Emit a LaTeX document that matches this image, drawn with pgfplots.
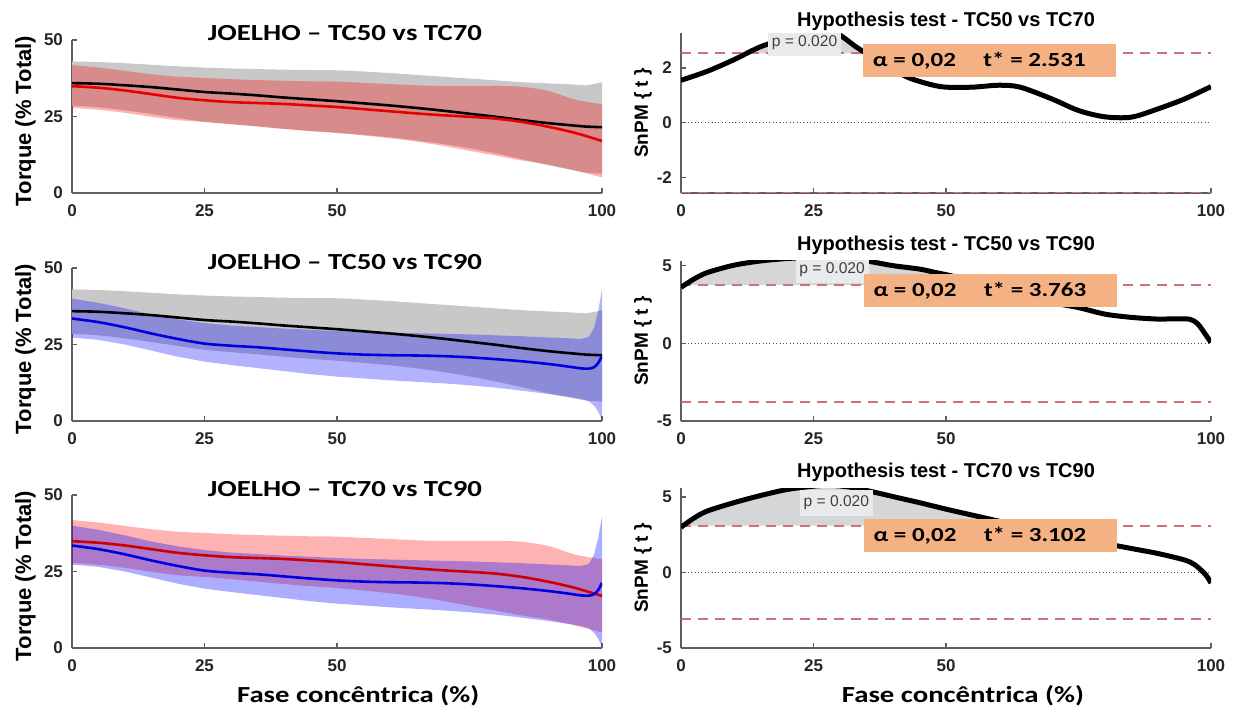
\documentclass[border=0pt]{standalone}
\usepackage{fontspec}
\setmainfont{Liberation Sans}
\newfontfamily\carlito{Carlito}
\usepackage{graphicx}
\usepackage{pgfplots}
\pgfplotsset{compat=1.18}
\usepackage{pgfplotstable}
\usepgfplotslibrary{fillbetween}

\definecolor{bandgray}{RGB}{200,200,200}
\definecolor{tcred}{RGB}{230,0,0}
\definecolor{tcblue}{RGB}{0,0,225}
\definecolor{thr}{RGB}{205,115,115}
\definecolor{orangebox}{RGB}{244,177,131}
\definecolor{axgray}{RGB}{95,95,95}
\definecolor{pbox}{RGB}{234,234,234}

% TC50
\pgfplotstableread{
x m lo hi
0 35.9 28.5 43.0
5 35.7 28.0 42.8
10 35.2 27.0 42.4
15 34.6 25.8 41.9
20 33.8 24.5 41.4
25 33.0 23.3 41.0
30 32.5 22.5 40.7
35 31.9 21.8 40.5
40 31.2 21.0 40.3
45 30.6 20.3 40.2
50 30.0 19.7 40.1
55 29.3 19.0 39.7
60 28.6 18.2 39.2
65 27.8 17.2 38.6
70 26.9 16.0 38.0
75 25.9 14.6 37.4
80 24.9 12.9 36.8
85 23.8 11.0 36.2
90 22.8 9.0 35.8
95 22.0 7.3 35.4
97 21.7 6.7 35.2
100 21.5 6.3 36.2
}\tcA
% TC70
\pgfplotstableread{
x m lo hi
0 34.9 27.8 41.8
5 34.4 27.2 41.0
10 33.5 26.2 39.9
15 32.3 24.9 38.8
20 31.1 23.8 38.0
25 30.3 23.2 37.6
30 29.7 22.5 37.2
35 29.4 21.7 36.9
40 29.1 20.9 36.7
45 28.6 20.2 36.5
50 28.1 19.6 36.4
55 27.4 18.8 36.0
60 26.7 17.9 35.6
65 26.0 16.8 35.2
70 25.4 15.4 35.0
75 24.9 13.8 35.0
80 24.3 12.2 35.0
85 23.2 10.6 34.7
90 21.6 9.3 33.3
95 19.6 7.3 30.5
100 17.0 5.1 29.0
}\tcB
% TC90
\pgfplotstableread{
x m lo hi
0 33.5 27.3 40.0
5 32.3 26.5 38.6
10 30.6 25.0 36.8
15 28.6 23.0 34.8
20 26.8 21.0 33.2
25 25.3 19.4 32.0
30 24.6 18.3 31.2
35 24.1 17.3 30.7
40 23.4 16.3 30.2
45 22.7 15.3 29.8
50 22.1 14.5 29.4
55 21.7 13.9 29.1
60 21.5 13.3 28.9
65 21.4 12.8 28.7
70 21.2 12.3 28.5
75 20.8 11.7 28.3
80 20.2 10.9 28.0
85 19.5 9.9 27.7
90 18.6 8.8 27.3
94 17.7 7.8 27.0
96 17.2 7.2 26.8
97.5 17.1 6.5 27.5
98.5 17.6 5.0 30.5
99.3 19.0 3.0 36.0
100 21.3 0.5 43.0
}\tcC
% SnPM t curves
\pgfplotstableread{
x t
0 1.55
5 1.88
10 2.30
15 2.77
20 3.07
25 3.28
28 3.27
30 3.19
33 2.77
36 2.40
40 1.95
43 1.64
47 1.40
50 1.30
55 1.30
60 1.37
64 1.30
70 0.87
75 0.45
80 0.22
85 0.21
90 0.51
95 0.87
100 1.32
}\spmA
\pgfplotstableread{
x t
0 3.60
2.5 4.15
5 4.56
10 5.03
15 5.30
20 5.46
25 5.52
30 5.45
35 5.30
40 5.00
45 4.78
48 4.56
50 4.42
55 4.02
60 3.55
65 3.05
70 2.62
75 2.30
80 1.88
85 1.67
90 1.56
93 1.58
96 1.55
97.5 1.25
99 0.55
100 0.06
}\spmB
\pgfplotstableread{
x t
0 3.00
2.5 3.62
5 4.08
10 4.63
15 5.10
20 5.50
25 5.72
28 5.78
32 5.65
37 5.28
41 4.95
45 4.63
50 4.20
55 3.80
60 3.40
65 3.00
70 2.60
75 2.25
80 1.92
85 1.59
90 1.26
95 0.83
97 0.50
99 -0.15
100 -0.70
}\spmC

\pgfplotsset{
  base/.style={scale only axis, width=265pt, xmin=0, xmax=100, xtick={0,25,50,100},
    axis lines=left, axis line style={-, axgray, line width=0.6pt},
    tick align=inside, major tick length=2.5pt, tick style={axgray, line width=0.6pt},
    /pgf/number format/assume math mode=true,
    ticklabel style={font=\fontsize{8.5}{10}\selectfont\bfseries, text=black!85},
    xticklabel style={yshift=-2.5pt}, yticklabel style={xshift=-1pt},
    anchor=south west},
  leftax/.style={base, height=76.5pt, ymin=0, ymax=50, ytick={0,25,50},
    ylabel={Torque (\% Total)},
    ylabel style={at={(axis description cs:-0.088,0.47)}, anchor=center,
      font=\fontsize{11}{13}\selectfont\bfseries},
    every axis title/.style={at={(axis description cs:0.515,1)}, anchor=base, yshift=-0.5pt,
      font=\carlito\bfseries\fontsize{11.5}{13}\selectfont},
    xlabel style={at={(axis description cs:0.54,-0.31)}, anchor=center,
      font=\carlito\bfseries\fontsize{11.5}{13}\selectfont}},
  rightax/.style={base, height=80pt,
    ylabel={SnPM \{ t \}},
    ylabel style={at={(axis description cs:-0.072,0.5)}, anchor=center,
      font=\fontsize{9.5}{11}\selectfont\bfseries},
    every axis title/.style={at={(axis description cs:0.5,1)}, anchor=base, yshift=5.2pt,
      font=\fontsize{10}{12}\selectfont\bfseries},
    xlabel style={at={(axis description cs:0.532,-0.296)}, anchor=center,
      font=\carlito\bfseries\fontsize{11.5}{13}\selectfont}},
  thrline/.style={thr, line width=0.9pt, dash pattern=on 5pt off 3.5pt},
  zeroline/.style={black!70, line width=0.5pt, dash pattern=on 0.4pt off 1.3pt},
  tcurve/.style={black, line width=2.5pt, smooth},
  meanline/.style={line width=1.3pt, smooth},
}
\tikzset{
  pnode/.style={fill=pbox, minimum width=36.5pt, minimum height=13pt, inner sep=0pt,
    font=\fontsize{7.8}{9}\selectfont, text=black!75},
  obox/.style={fill=orangebox, minimum width=126.5pt, minimum height=16.5pt, inner sep=0pt},
  otext/.style={anchor=west, inner sep=0pt, font=\carlito\bfseries\fontsize{10}{12}\selectfont},
}

\newcommand{\st}[1]{\scalebox{1.25}[1]{#1}}

\begin{document}
\begin{tikzpicture}

% ---------- Left row 1: TC50 vs TC70
\begin{axis}[leftax, at={(36pt,260pt)}, title={\st{JOELHO – TC50 vs TC70}}]
\addplot[name path=ahi, draw=none, smooth] table[x=x,y=hi]{\tcA};
\addplot[name path=alo, draw=none, smooth] table[x=x,y=lo]{\tcA};
\addplot[fill=bandgray, draw=none] fill between[of=ahi and alo];
\addplot[black, meanline] table[x=x,y=m]{\tcA};
\addplot[name path=bhi, draw=none, smooth] table[x=x,y=hi]{\tcB};
\addplot[name path=blo, draw=none, smooth] table[x=x,y=lo]{\tcB};
\addplot[fill=red, fill opacity=0.3, draw=none] fill between[of=bhi and blo];
\addplot[tcred, meanline] table[x=x,y=m]{\tcB};
\end{axis}

% ---------- Left row 2: TC50 vs TC90
\begin{axis}[leftax, at={(36pt,146pt)}, title={\st{JOELHO – TC50 vs TC90}}]
\addplot[name path=ahi, draw=none, smooth] table[x=x,y=hi]{\tcA};
\addplot[name path=alo, draw=none, smooth] table[x=x,y=lo]{\tcA};
\addplot[fill=bandgray, draw=none] fill between[of=ahi and alo];
\addplot[black, meanline] table[x=x,y=m]{\tcA};
\addplot[name path=chi, draw=none] table[x=x,y=hi]{\tcC};
\addplot[name path=clo, draw=none] table[x=x,y=lo]{\tcC};
\addplot[fill=blue, fill opacity=0.3, draw=none] fill between[of=chi and clo];
\addplot[tcblue, meanline] table[x=x,y=m]{\tcC};
\end{axis}

% ---------- Left row 3: TC70 vs TC90
\begin{axis}[leftax, at={(36pt,32.5pt)}, title={\st{JOELHO – TC70 vs TC90}},
  xlabel={\st{Fase concêntrica (\%)}}]
\addplot[name path=bhi, draw=none, smooth] table[x=x,y=hi]{\tcB};
\addplot[name path=blo, draw=none, smooth] table[x=x,y=lo]{\tcB};
\addplot[fill=red, fill opacity=0.3, draw=none] fill between[of=bhi and blo];
\addplot[red!80!black, meanline] table[x=x,y=m]{\tcB};
\addplot[name path=chi, draw=none] table[x=x,y=hi]{\tcC};
\addplot[name path=clo, draw=none] table[x=x,y=lo]{\tcC};
\addplot[fill=blue, fill opacity=0.32, draw=none] fill between[of=chi and clo];
\addplot[tcblue, meanline] table[x=x,y=m]{\tcC};
\end{axis}

% ---------- Right row 1
\begin{axis}[rightax, at={(340.5pt,260pt)}, ymin=-2.55, ymax=3.27, ytick={-2,0,2},
  title={Hypothesis test - TC50 vs TC70}, title style={yshift=-1.8pt}]
\addplot[thrline] coordinates {(0,2.531) (100,2.531)};
\addplot[thrline] coordinates {(0,-2.531) (100,-2.531)};
\addplot[zeroline] coordinates {(0,0) (100,0)};
\addplot[name path=spm, draw=none, smooth] table[x=x,y=t]{\spmA};
\addplot[name path=tl, draw=none] coordinates {(0,2.531) (100,2.531)};
\addplot[fill=black!16, draw=none] fill between[of=spm and tl, soft clip={domain=12.8:35.5}];
\addplot[tcurve] table[x=x,y=t]{\spmA};
\node[pnode] at (axis cs:23.3,2.92) {p = 0.020};
\node[obox] (ob) at (axis cs:58.2,2.275) {};
\node[otext] at ([xshift=5pt]ob.west) {\st{α = 0,02\hspace{11pt}t* = 2.531}};
\end{axis}

% ---------- Right row 2
\begin{axis}[rightax, at={(340.5pt,146pt)}, ymin=-5, ymax=5.3, ytick={-5,0,5},
  title={Hypothesis test - TC50 vs TC90}]
\addplot[thrline] coordinates {(0,3.763) (100,3.763)};
\addplot[thrline] coordinates {(0,-3.763) (100,-3.763)};
\addplot[zeroline] coordinates {(0,0) (100,0)};
\addplot[name path=spm, draw=none, smooth] table[x=x,y=t]{\spmB};
\addplot[name path=tl, draw=none] coordinates {(0,3.763) (100,3.763)};
\addplot[fill=black!16, draw=none] fill between[of=spm and tl, soft clip={domain=0.3:57.7}];
\addplot[tcurve] table[x=x,y=t]{\spmB};
\node[pnode] at (axis cs:28.5,4.75) {p = 0.020};
\node[obox] (ob) at (axis cs:58.3,3.4) {};
\node[otext] at ([xshift=5pt]ob.west) {\st{α = 0,02\hspace{11pt}t* = 3.763}};
\end{axis}

% ---------- Right row 3
\begin{axis}[rightax, at={(340.5pt,32.5pt)}, ymin=-5, ymax=5.6, ytick={-5,0,5},
  title={Hypothesis test - TC70 vs TC90}, xlabel={\st{Fase concêntrica (\%)}}]
\addplot[thrline] coordinates {(0,3.102) (100,3.102)};
\addplot[thrline] coordinates {(0,-3.102) (100,-3.102)};
\addplot[zeroline] coordinates {(0,0) (100,0)};
\addplot[name path=spm, draw=none, smooth] table[x=x,y=t]{\spmC};
\addplot[name path=tl, draw=none] coordinates {(0,3.102) (100,3.102)};
\addplot[fill=black!16, draw=none] fill between[of=spm and tl, soft clip={domain=0.2:64.8}];
\addplot[tcurve] table[x=x,y=t]{\spmC};
\node[pnode] at (axis cs:29.3,4.6) {p = 0.020};
\node[obox] (ob) at (axis cs:58.3,2.47) {};
\node[otext] at ([xshift=5pt]ob.west) {\st{α = 0,02\hspace{11pt}t* = 3.102}};
\end{axis}

\pgfresetboundingbox
\path[use as bounding box] (0,0) rectangle (620pt,356.5pt);
\end{tikzpicture}
\end{document}
